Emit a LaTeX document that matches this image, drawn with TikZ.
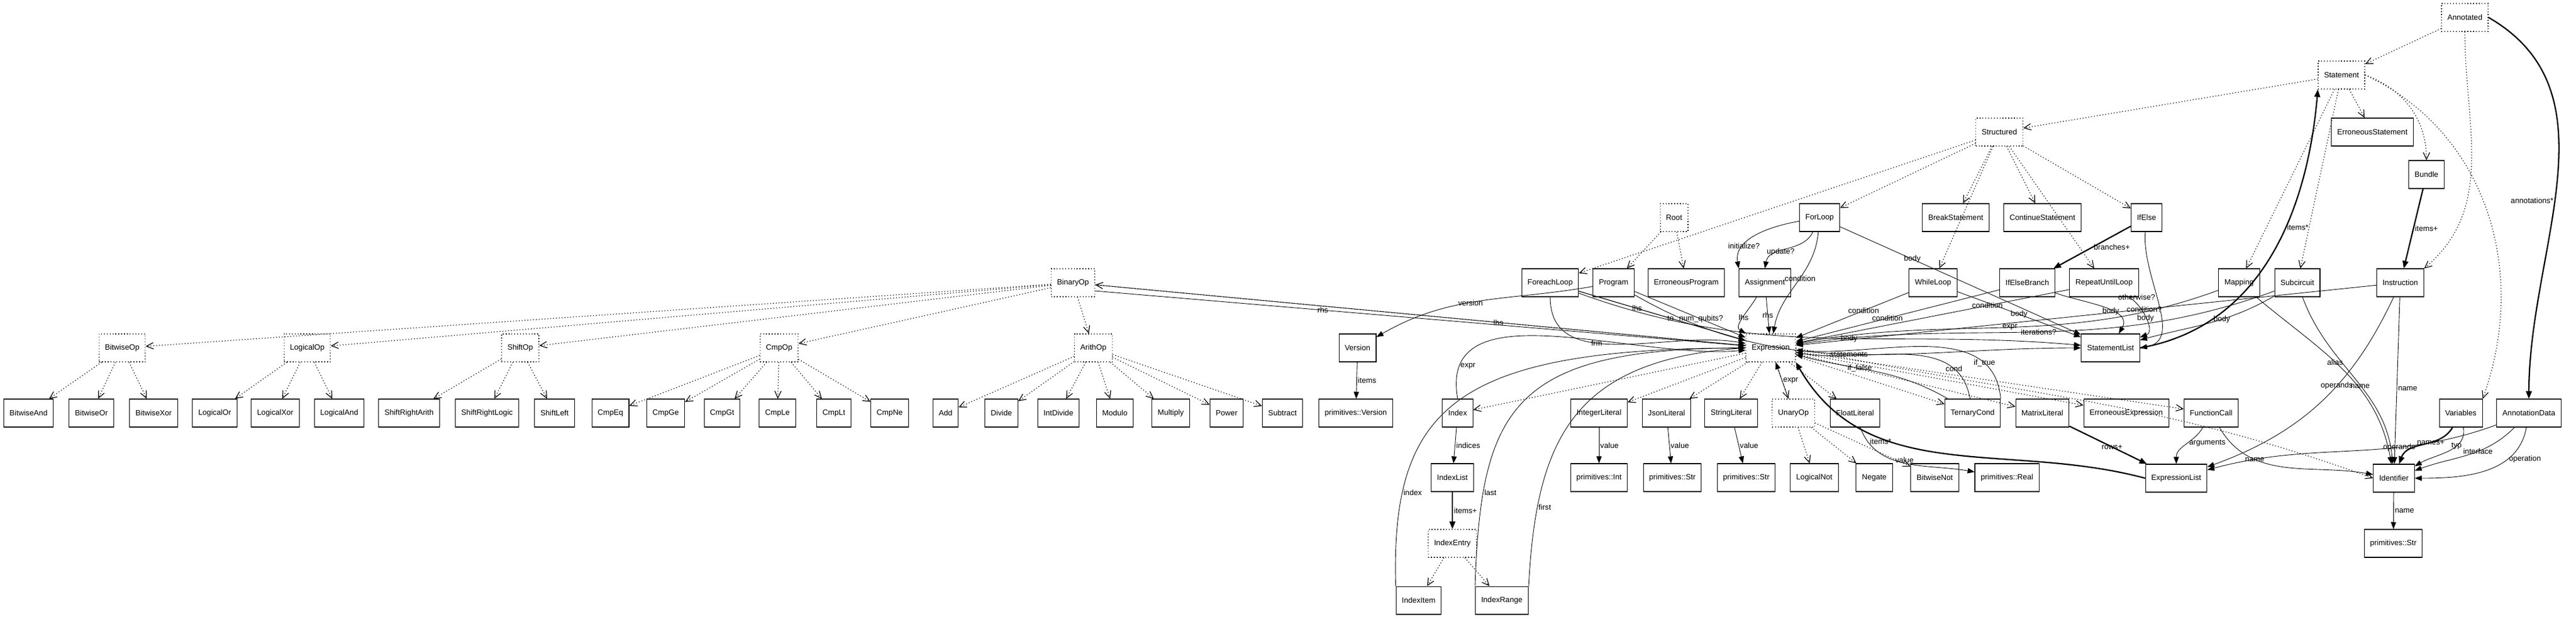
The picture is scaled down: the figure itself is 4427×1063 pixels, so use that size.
\documentclass[tikz,border=0pt]{standalone}
\usepackage{fontspec}
\setmainfont{Liberation Sans}
\usepackage{tikz}
\usetikzlibrary{arrows.meta}
\newcommand{\gfont}{\fontsize{7.5}{9}\selectfont}

\begin{document}
\begin{tikzpicture}[x=0.02cm, y=-0.02cm, font=\gfont,
    cls/.style={draw, line width=0.6pt, rectangle, minimum height=0.96cm, inner xsep=0.2cm},
    abs/.style={draw, dash pattern=on 0.8pt off 2pt, line width=0.7pt, rectangle, minimum height=0.96cm, inner xsep=0.2cm},
    sub/.style={dash pattern=on 0.8pt off 2pt, line width=0.7pt, -{Straight Barb[length=2.4mm,width=2.2mm]}},
    fld/.style={line width=0.5pt, -{Triangle[length=2.4mm,width=1.8mm]}},
    lst/.style={line width=1.3pt, -{Triangle[length=2.6mm,width=2mm]}},
    lbl/.style={inner sep=1pt}]
  \useasboundingbox (0,0) rectangle (4427,1063);

  % Top of the tree
  \node[abs] (annotated) at (4236,30) {Annotated};
  \node[abs] (statement) at (4024,129) {Statement};
  \node[cls] (errstmt) at (4077,227) {ErroneousStatement};
  \node[abs] (structured) at (3436,227) {Structured};
  \node[cls] (bundle) at (4170,300) {Bundle};

  % Root and loops
  \node[abs] (root) at (2877,374) {Root};
  \node[cls] (forloop) at (3127,374) {ForLoop};
  \node[cls] (breakstmt) at (3361,374) {BreakStatement};
  \node[cls] (contstmt) at (3510,374) {ContinueStatement};
  \node[cls] (ifelse) at (3689,374) {IfElse};

  \node[abs] (binop) at (1844,486) {BinaryOp};
  \node[cls] (foreach) at (2664,486) {ForeachLoop};
  \node[cls] (program) at (2773,486) {Program};
  \node[cls] (errprog) at (2898,486) {ErroneousProgram};
  \node[cls] (assign) at (3033,486) {Assignment};
  \node[cls] (whileloop) at (3322,486) {WhileLoop};
  \node[cls] (branch) at (3484,486) {IfElseBranch};
  \node[cls] (repeat) at (3616,486) {RepeatUntilLoop};
  \node[cls] (mapping) at (3848,486) {Mapping};
  \node[cls] (subcirc) at (3948,486) {Subcircuit};
  \node[cls] (instr) at (4125,486) {Instruction};

  % Operator groups
  \node[abs] (bitop) at (210,598) {BitwiseOp};
  \node[abs] (logop) at (528,598) {LogicalOp};
  \node[abs] (shiftop) at (894,598) {ShiftOp};
  \node[abs] (cmpop) at (1339,598) {CmpOp};
  \node[abs] (arithop) at (1879,598) {ArithOp};
  \node[cls] (version) at (2333,598) {Version};
  \node[abs] (expr) at (3043,598) {Expression};
  \node[cls] (stmtlist) at (3627,598) {StatementList};

  % Leaf row
  \foreach \nm/\xx/\txt in {band/49/BitwiseAnd, bor/157/BitwiseOr, bxor/264/BitwiseXor,
      lor/369/LogicalOr, lxor/473/LogicalXor, land/583/LogicalAnd,
      sra/703/ShiftRightArith, srl/837/ShiftRightLogic, sl/953/ShiftLeft,
      ceq/1049/CmpEq, cge/1144/CmpGe, cgt/1241/CmpGt, cle/1336/CmpLe, clt/1433/CmpLt, cne/1529/CmpNe,
      add/1625/Add, div/1721/Divide, idiv/1819/IntDivide, mod/1916/Modulo, mul/2012/Multiply,
      pow/2108/Power, subt/2204/Subtract, primver/2330/primitives::Version}
    \node[cls] (\nm) at (\xx,710) {\txt};

  \node[cls] (index) at (2505,710) {Index};
  \node[cls] (intlit) at (2748,710) {IntegerLiteral};
  \node[cls] (jsonlit) at (2864,710) {JsonLiteral};
  \node[cls] (strlit) at (2975,710) {StringLiteral};
  \node[abs] (unop) at (3082,710) {UnaryOp};
  \node[cls] (floatlit) at (3188,710) {FloatLiteral};
  \node[cls] (ternary) at (3390,710) {TernaryCond};
  \node[cls] (matlit) at (3510,710) {MatrixLiteral};
  \node[cls] (errexpr) at (3654,710) {ErroneousExpression};
  \node[cls] (funcall) at (3800,710) {FunctionCall};
  \node[cls] (variables) at (4229,710) {Variables};
  \node[cls] (annotdata) at (4346,710) {AnnotationData};

  \node[cls] (indexlist) at (2496,821) {IndexList};
  \node[cls] (primint) at (2748,821) {primitives::Int};
  \node[cls] (strA) at (2874,821) {primitives::Str};
  \node[cls] (strB) at (3001,821) {primitives::Str};
  \node[cls] (lnot) at (3118,821) {LogicalNot};
  \node[cls] (neg) at (3221,821) {Negate};
  \node[cls] (bnot) at (3325,821) {BitwiseNot};
  \node[cls] (primreal) at (3449,821) {primitives::Real};
  \node[cls] (exprlist) at (3740,822) {ExpressionList};
  \node[cls] (ident) at (4114,822) {Identifier};

  \node[abs] (indexentry) at (2496,934) {IndexEntry};
  \node[cls] (strC) at (4113,934) {primitives::Str};
  \node[cls] (indexitem) at (2438,1032) {IndexItem};
  \node[cls] (indexrange) at (2581,1032) {IndexRange};

  % Subclass edges
  \foreach \pa/\ch in {annotated/statement, statement/structured, statement/errstmt,
      statement/mapping, statement/subcirc,
      structured/foreach, structured/forloop, structured/whileloop, structured/breakstmt,
      structured/contstmt, structured/repeat, structured/ifelse, root/program, root/errprog,
      expr/binop, expr/index, expr/intlit, expr/jsonlit, expr/strlit, expr/unop, expr/floatlit,
      expr/ternary, expr/matlit, expr/errexpr, expr/funcall,
      binop/bitop, binop/logop, binop/shiftop, binop/cmpop, binop/arithop,
      bitop/band, bitop/bor, bitop/bxor, logop/lor, logop/lxor, logop/land,
      shiftop/sra, shiftop/srl, shiftop/sl,
      cmpop/ceq, cmpop/cge, cmpop/cgt, cmpop/cle, cmpop/clt, cmpop/cne,
      arithop/add, arithop/div, arithop/idiv, arithop/mod, arithop/mul, arithop/pow, arithop/subt,
      unop/lnot, unop/neg, unop/bnot, indexentry/indexitem, indexentry/indexrange}
    \draw[sub] (\pa) -- (\ch);
  \draw[sub] (statement.east) to[out=-20,in=90] (bundle.north);
  \draw[sub] (statement.east) to[out=-25,in=70] (variables.north east);
  \draw[sub] (annotated.south) to[out=-90,in=40] (instr.north east);
  \draw[sub] (expr.east) to[out=-12,in=160] (ident.west);

  % Fields
  \draw[lst] (annotated.east) to[out=-30,in=90] node[lbl, left, pos=0.55] {annotations*} (annotdata.north);
  \draw[lst] (stmtlist.east) to[out=10,in=-95] node[lbl, right, pos=0.6] {items*} (statement.south west);
  \draw[lst] (bundle) -- node[lbl, right] {items+} (instr);
  \draw[lst] (ifelse) -- node[lbl, right] {branches+} (branch);
  \draw[fld] (ifelse) to[out=-95,in=10] node[lbl, pos=0.45, left] {otherwise?} (stmtlist.east);
  \draw[fld] (forloop) to[out=190,in=100] node[lbl, pos=0.7] {initialize?} (assign.north west);
  \draw[fld] (forloop) to[out=-115,in=80] node[lbl, pos=0.6] {update?} (assign.north);
  \draw[fld] (forloop) to[out=-95,in=80] node[lbl, pos=0.45] {condition} (expr);
  \draw[fld] (forloop) -- node[lbl, pos=0.3] {body} (stmtlist);
  \draw[fld] (binop) -- node[lbl, pos=0.62] {lhs} (expr);
  \draw[fld] ([yshift=-8]binop.east) -- node[lbl, pos=0.35] {rhs} (expr);
  \draw[fld] (program) to[out=190,in=30] node[lbl, pos=0.55] {version} (version);
  \draw[fld] (version) -- node[lbl, right] {items} (primver);
  \draw[fld] (program) -- node[lbl, pos=0.6] {num\_qubits?} (expr);
  \draw[fld] (program) to[out=-30,in=180] node[lbl, pos=0.5] {statements} (stmtlist);
  \draw[fld] (foreach) -- node[lbl, pos=0.35] {lhs} (expr);
  \draw[fld] (foreach.south) to[out=-90,in=170] node[lbl, pos=0.4] {frm} (expr);
  \draw[fld] (foreach) -- node[lbl, pos=0.55] {to} (expr);
  \draw[fld] (foreach) to[out=-20,in=175] node[lbl, pos=0.55] {body} (stmtlist);
  \draw[fld] (assign) to[out=-120,in=150] node[lbl, pos=0.5] {lhs} (expr);
  \draw[fld] (assign) -- node[lbl, pos=0.5] {rhs} (expr);
  \draw[fld] (whileloop) -- node[lbl, pos=0.4] {condition} (expr);
  \draw[fld] (whileloop) -- node[lbl, pos=0.5] {body} (stmtlist);
  \draw[fld] (branch) -- node[lbl, pos=0.55] {condition} (expr);
  \draw[fld] (branch) to[out=-20,in=60] node[lbl, pos=0.6] {body} (stmtlist);
  \draw[fld] (repeat) -- node[lbl, pos=0.3] {condition} (expr);
  \draw[fld] (repeat) to[out=-30,in=20] node[lbl, pos=0.5] {body} (stmtlist);
  \draw[fld] (mapping) to[out=200,in=10] node[lbl, pos=0.5] {expr} (expr);
  \draw[fld] (mapping) to[out=-40,in=100] node[lbl, pos=0.45] {alias} (ident);
  \draw[fld] (subcirc) to[out=200,in=8] node[lbl, pos=0.5] {iterations?} (expr);
  \draw[fld] (subcirc) to[out=-150,in=15] node[lbl, pos=0.4] {body} (stmtlist);
  \draw[fld] (subcirc) to[out=-70,in=95] node[lbl, pos=0.55] {name} (ident);
  \draw[fld] (instr) -- node[lbl, pos=0.4] {condition?} (expr);
  \draw[fld] (instr) to[out=-115,in=20] node[lbl, pos=0.4] {operands} (exprlist);
  \draw[fld] (instr) -- node[lbl, right, pos=0.55] {name} (ident);
  \draw[fld] (annotdata) to[out=200,in=15] node[lbl, pos=0.33] {operands} (exprlist);
  \draw[fld] (annotdata) to[out=-135,in=20] node[lbl, pos=0.4] {interface} (ident);
  \draw[fld] (annotdata) to[out=-100,in=0] node[lbl, right, pos=0.3] {operation} (ident);
  \draw[lst] (variables) to[out=-120,in=70] node[lbl, pos=0.4] {names+} (ident);
  \draw[fld] (variables) to[out=-80,in=30] node[lbl, pos=0.35] {typ} (ident);
  \draw[fld] (funcall) to[out=-120,in=90] node[lbl, pos=0.45, right] {arguments} (exprlist);
  \draw[fld] (funcall) to[out=-60,in=170] node[lbl, pos=0.3] {name} (ident);
  \draw[lst] (matlit) -- node[lbl, pos=0.55] {rows+} (exprlist);
  \draw[lst] (exprlist.west) to[out=165,in=-60] node[lbl, pos=0.65, left] {items*} (expr.south east);
  \draw[fld] (ident) -- node[lbl, right] {name} (strC);
  \draw[fld] (ternary) to[out=150,in=-15] node[lbl, pos=0.6] {if\_false} (expr);
  \draw[fld] (ternary) to[out=100,in=-10] node[lbl, pos=0.2] {cond} (expr);
  \draw[fld] (ternary.north east) to[out=95,in=-5] node[lbl, pos=0.2] {if\_true} (expr);
  \draw[fld] (unop) -- node[lbl, right] {expr} (expr);
  \draw[fld] (intlit) -- node[lbl, right] {value} (primint);
  \draw[fld] (jsonlit) -- node[lbl, right] {value} (strA);
  \draw[fld] (strlit) -- node[lbl, right] {value} (strB);
  \draw[fld] (floatlit) to[out=-70,in=170] node[lbl, pos=0.4, right] {value} (primreal);
  \draw[fld] (index.north) to[out=100,in=185] node[lbl, pos=0.12, right] {expr} (expr);
  \draw[fld] (index) -- node[lbl, right] {indices} (indexlist);
  \draw[lst] (indexlist) -- node[lbl, right] {items+} (indexentry);
  \draw[fld] (indexitem.north west) .. controls (2390,700) and (2500,600) .. node[lbl, pos=0.2, right] {index} (expr.west);
  \draw[fld] (indexrange.north west) .. controls (2545,700) and (2600,600) .. node[lbl, pos=0.2, right] {last} (expr.west);
  \draw[fld] (indexrange.north east) .. controls (2640,760) and (2700,620) .. node[lbl, pos=0.2, right] {first} (expr.west);
\end{tikzpicture}
\end{document}
